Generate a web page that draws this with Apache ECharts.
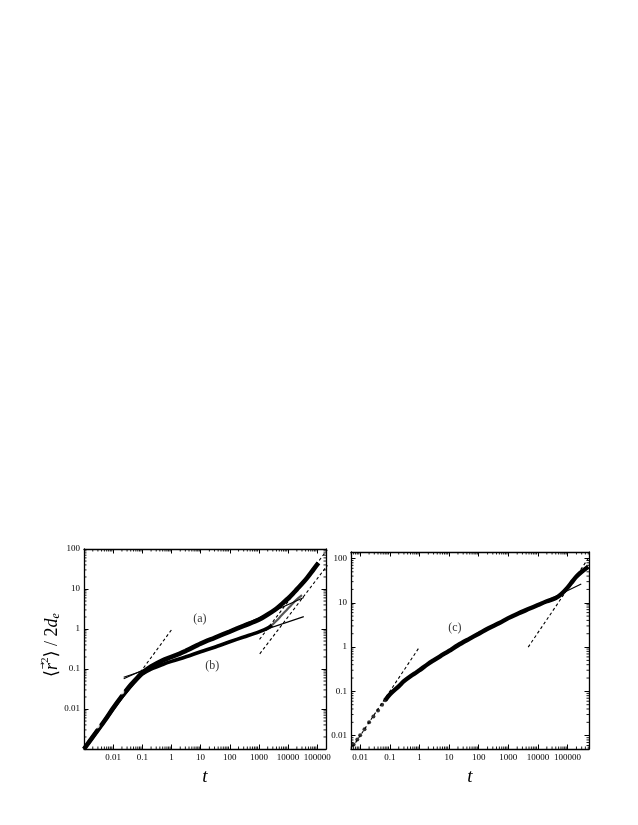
<!DOCTYPE html>
<html>
<head>
<meta charset="utf-8">
<script src="https://cdn.jsdelivr.net/npm/echarts@6/dist/echarts.min.js"></script>
<style>html,body{margin:0;padding:0;background:#fff}#c{width:638px;height:825px}</style>
</head>
<body>
<div id="c"></div>
<script>
// ---------- data ----------
// panel 1, curve (a)
const tA = [0.001, 0.002, 0.005, 0.01, 0.02, 0.04, 0.07, 0.1, 0.2, 0.5, 1, 3, 10, 30, 100, 300, 1000, 2000, 3500, 5000, 7000, 10000, 15000, 20000, 30000, 45000, 70000, 110000];
const vA = [0.001, 0.002, 0.005, 0.0105, 0.021, 0.04, 0.062, 0.08, 0.115, 0.165, 0.2, 0.28, 0.43, 0.6, 0.86, 1.2, 1.7, 2.3, 3.0, 3.7, 4.6, 5.8, 7.8, 9.8, 13.5, 19, 29, 45];
// panel 1, curve (b)
const tB = [0.001, 0.002, 0.005, 0.01, 0.02, 0.04, 0.07, 0.1, 0.2, 0.5, 1, 3, 10, 30, 100, 300, 1000, 2000, 2800];
const vB = [0.001, 0.002, 0.005, 0.0102, 0.02, 0.037, 0.058, 0.075, 0.1, 0.13, 0.155, 0.2, 0.27, 0.35, 0.48, 0.63, 0.85, 1.05, 1.25];
// panel 1, curve (b) late rise (lighter points)
const tB2 = [2800, 4000, 6000, 9000, 13000, 20000, 30000];
const vB2 = [1.25, 1.6, 2.2, 3.0, 4.0, 5.5, 7.0];
// panel 1, scattered open points at short times
const tS = [0.00175, 0.0028, 0.0095, 0.0195];
const vS = [0.003, 0.0038, 0.0197, 0.027];
// panel 1, fitted straight lines (solid) and slope lines (dashed)
const fitAt = [0.023, 34600], fitAv = [0.057, 6.1];
const fitBt = [0.023, 34600], fitBv = [0.062, 2.04];
const dash1t = [0.003, 1], dash1v = [0.003, 0.95];
const dash2t = [1050, 220000], dash2v = [0.55, 95];
const dash3t = [1070, 224000], dash3v = [0.24, 39];
// panel 2, curve (c): early dots and main band
const tCd = [0.006, 0.008, 0.01, 0.014, 0.02, 0.028, 0.04, 0.055, 0.07];
const vCd = [0.0063, 0.0082, 0.0102, 0.014, 0.02, 0.027, 0.037, 0.05, 0.063];
const tC = [0.07, 0.1, 0.2, 0.3, 0.5, 0.8, 1, 2, 3, 5, 10, 20, 50, 100, 200, 500, 1000, 2000, 5000, 10000, 20000, 40000, 60000, 100000, 150000, 200000, 300000, 500000];
const vC = [0.063, 0.085, 0.13, 0.17, 0.22, 0.27, 0.3, 0.42, 0.5, 0.62, 0.82, 1.1, 1.55, 2.0, 2.6, 3.5, 4.5, 5.6, 7.3, 8.9, 10.8, 12.8, 15.5, 22, 31, 39, 50, 65];
const fitCt = [3000, 290000], fitCv = [6.0, 26.5];
const dashR1t = [0.0055, 1], dashR1v = [0.0055, 1.0];
const dashR2t = [4700, 500000], dashR2v = [1.0, 100];
// annotation labels
const labelTexts = ['(a)', '(b)', '(c)'];
const labelT = [9.4, 25, 15.8];
const labelV = [1.82, 0.12, 2.67];
// axis ranges
const x1Range = [0.001, 200000], y1Range = [0.001, 100];
const x2Range = [0.0049, 530000], y2Range = [0.005, 140];

// ---------- helpers ----------
const zip = (a, b) => a.map((v, i) => [v, b[i]]);
const SERIF = '"Liberation Serif", "DejaVu Serif", serif';
function fmt(v) {
  if (v < 0.005) return '';
  const l = Math.log10(v);
  if (Math.abs(l - Math.round(l)) > 1e-6) return '';
  const r = Math.round(l);
  return r < 0 ? v.toFixed(-r) : String(Math.round(v));
}
function xAxisDef(grid, range, pos) {
  const bottom = pos === 'bottom';
  return {
    type: 'log', gridIndex: grid, min: range[0], max: range[1], position: pos, logBase: 10,
    axisLine: { show: true, onZero: false, lineStyle: { color: '#000', width: 1.3 } },
    axisTick: { show: true, inside: true, length: 4.5, lineStyle: { color: '#000', width: 1 } },
    axisLabel: { show: bottom, formatter: fmt, margin: 4, fontFamily: SERIF, fontSize: 9, color: '#000' },
    splitLine: { show: false },
    name: bottom ? 't' : '', nameLocation: 'middle', nameGap: 18,
    nameTextStyle: { fontFamily: SERIF, fontStyle: 'italic', fontSize: 19, color: '#000' }
  };
}
function yAxisDef(grid, range, pos) {
  const left = pos === 'left';
  return {
    type: 'log', gridIndex: grid, min: range[0], max: range[1], position: pos, logBase: 10,
    axisLine: { show: true, onZero: false, lineStyle: { color: '#000', width: 1.3 } },
    axisTick: { show: true, inside: true, length: 4.5, lineStyle: { color: '#000', width: 1 } },
    axisLabel: { show: left, formatter: fmt, margin: 4, fontFamily: SERIF, fontSize: 9, color: '#000' },
    splitLine: { show: false }
  };
}
function minorVals(range) {
  const out = [];
  const d0 = Math.floor(Math.log10(range[0])), d1 = Math.ceil(Math.log10(range[1]));
  for (let d = d0; d <= d1; d++) for (let k = 2; k <= 9; k++) {
    const v = k * Math.pow(10, d);
    if (v > range[0] && v < range[1]) out.push(v);
  }
  return out;
}
function minorSeries(xi, yi, xr, yr) {
  const data = [];
  minorVals(xr).forEach(v => data.push([v, yr[0], 0]));
  minorVals(yr).forEach(v => data.push([xr[0], v, 1]));
  return {
    type: 'custom', xAxisIndex: xi, yAxisIndex: yi, silent: true, clip: false, z: 5,
    encode: { x: 0, y: 1 }, data,
    renderItem: function (params, api) {
      const cs = params.coordSys;
      const p = api.coord([api.value(0), api.value(1)]);
      const L = 2.5, style = { stroke: '#000', lineWidth: 0.9 };
      if (api.value(2) === 0) {
        const x = p[0];
        return { type: 'group', children: [
          { type: 'line', shape: { x1: x, y1: cs.y + cs.height, x2: x, y2: cs.y + cs.height - L }, style },
          { type: 'line', shape: { x1: x, y1: cs.y, x2: x, y2: cs.y + L }, style }
        ] };
      }
      const y = p[1];
      return { type: 'group', children: [
        { type: 'line', shape: { x1: cs.x, y1: y, x2: cs.x + L, y2: y }, style },
        { type: 'line', shape: { x1: cs.x + cs.width, y1: y, x2: cs.x + cs.width - L, y2: y }, style }
      ] };
    }
  };
}
function curve(xi, yi, t, v, width, color) {
  return {
    type: 'line', xAxisIndex: xi, yAxisIndex: yi, data: zip(t, v), showSymbol: false, symbol: 'none',
    smooth: 0.3, lineStyle: { color: color || '#000', width: width }, silent: true, z: 3, animation: false
  };
}
function seg(xi, yi, t, v, dashed, width) {
  return {
    type: 'line', xAxisIndex: xi, yAxisIndex: yi, data: zip(t, v), showSymbol: false, symbol: 'none',
    lineStyle: { color: '#000', width: width || 1.1, type: dashed ? [3, 2.5] : 'solid' }, silent: true, z: 4, animation: false
  };
}
function labelSeries(xi, yi, idx) {
  return {
    type: 'scatter', xAxisIndex: xi, yAxisIndex: yi, symbolSize: 0, silent: true, z: 6, animation: false,
    data: [[labelT[idx], labelV[idx]]],
    label: { show: true, position: 'inside', formatter: labelTexts[idx], fontFamily: SERIF, fontSize: 12, color: '#000' }
  };
}

// y-axis title built from pieces (measured so they sit side by side)
const ctx = document.createElement('canvas').getContext('2d');
const FAM = '"Liberation Serif", "DejaVu Serif", serif';
const pieces = [
  { t: '\u27E8', font: '18px ' + FAM, dy: 0 },
  { t: 'r', font: 'italic 18px ' + FAM, dy: 0, arrow: true },
  { t: '2', font: '11px ' + FAM, dy: -7 },
  { t: '\u27E9', font: '18px ' + FAM, dy: 0 },
  { t: ' / 2', font: '18px ' + FAM, dy: 0 },
  { t: 'd', font: 'italic 18px ' + FAM, dy: 0 },
  { t: 'e', font: 'italic 12px ' + FAM, dy: 4 }
];
let total = 0;
pieces.forEach(p => { ctx.font = p.font; p.w = ctx.measureText(p.t).width; total += p.w; });
const titleChildren = [];
let cx = -total / 2;
pieces.forEach(p => {
  titleChildren.push({ type: 'text', x: cx, y: p.dy, style: { text: p.t, font: p.font, fill: '#000', align: 'left', verticalAlign: 'middle' } });
  if (p.arrow) {
    titleChildren.push({ type: 'text', x: cx + p.w / 2 + 1, y: -9, style: { text: '\u2192', font: '9px "DejaVu Sans", sans-serif', fill: '#000', align: 'center', verticalAlign: 'middle' } });
  }
  cx += p.w;
});

const chart = echarts.init(document.getElementById('c'), null, { renderer: 'canvas' });
chart.setOption({
  animation: false,
  backgroundColor: '#fff',
  grid: [
    { left: 84, top: 549, width: 242, height: 200, show: false },
    { left: 351, top: 552, width: 238, height: 197, show: false }
  ],
  xAxis: [
    xAxisDef(0, x1Range, 'bottom'), xAxisDef(0, x1Range, 'top'),
    xAxisDef(1, x2Range, 'bottom'), xAxisDef(1, x2Range, 'top')
  ],
  yAxis: [
    yAxisDef(0, y1Range, 'left'), yAxisDef(0, y1Range, 'right'),
    yAxisDef(1, y2Range, 'left'), yAxisDef(1, y2Range, 'right')
  ],
  graphic: [{
    type: 'group', x: 52, y: 645, rotation: Math.PI / 2, children: titleChildren
  }],
  series: [
    minorSeries(0, 0, x1Range, y1Range),
    minorSeries(2, 2, x2Range, y2Range),
    curve(0, 0, tB2, vB2, 2.2, '#555'),
    curve(0, 0, tB, vB, 3.6),
    curve(0, 0, tA, vA, 4.6),
    {
      type: 'scatter', xAxisIndex: 0, yAxisIndex: 0, data: zip(tS, vS), symbol: 'emptyCircle', symbolSize: 3.5,
      itemStyle: { color: '#fff', borderColor: '#444', borderWidth: 0.8 }, silent: true, z: 4
    },
    seg(0, 0, fitAt, fitAv, false, 1.1),
    seg(0, 0, fitBt, fitBv, false, 1.1),
    seg(0, 0, dash1t, dash1v, true),
    seg(0, 0, dash2t, dash2v, true),
    seg(0, 0, dash3t, dash3v, true),
    {
      type: 'scatter', xAxisIndex: 2, yAxisIndex: 2, data: zip(tCd, vCd), symbol: 'circle', symbolSize: 4,
      itemStyle: { color: '#000' }, silent: true, z: 3
    },
    curve(2, 2, tC, vC, 4.4),
    seg(2, 2, fitCt, fitCv, false, 1.1),
    seg(2, 2, dashR1t, dashR1v, true),
    seg(2, 2, dashR2t, dashR2v, true),
    labelSeries(0, 0, 0),
    labelSeries(0, 0, 1),
    labelSeries(2, 2, 2)
  ]
});
</script>
</body>
</html>
